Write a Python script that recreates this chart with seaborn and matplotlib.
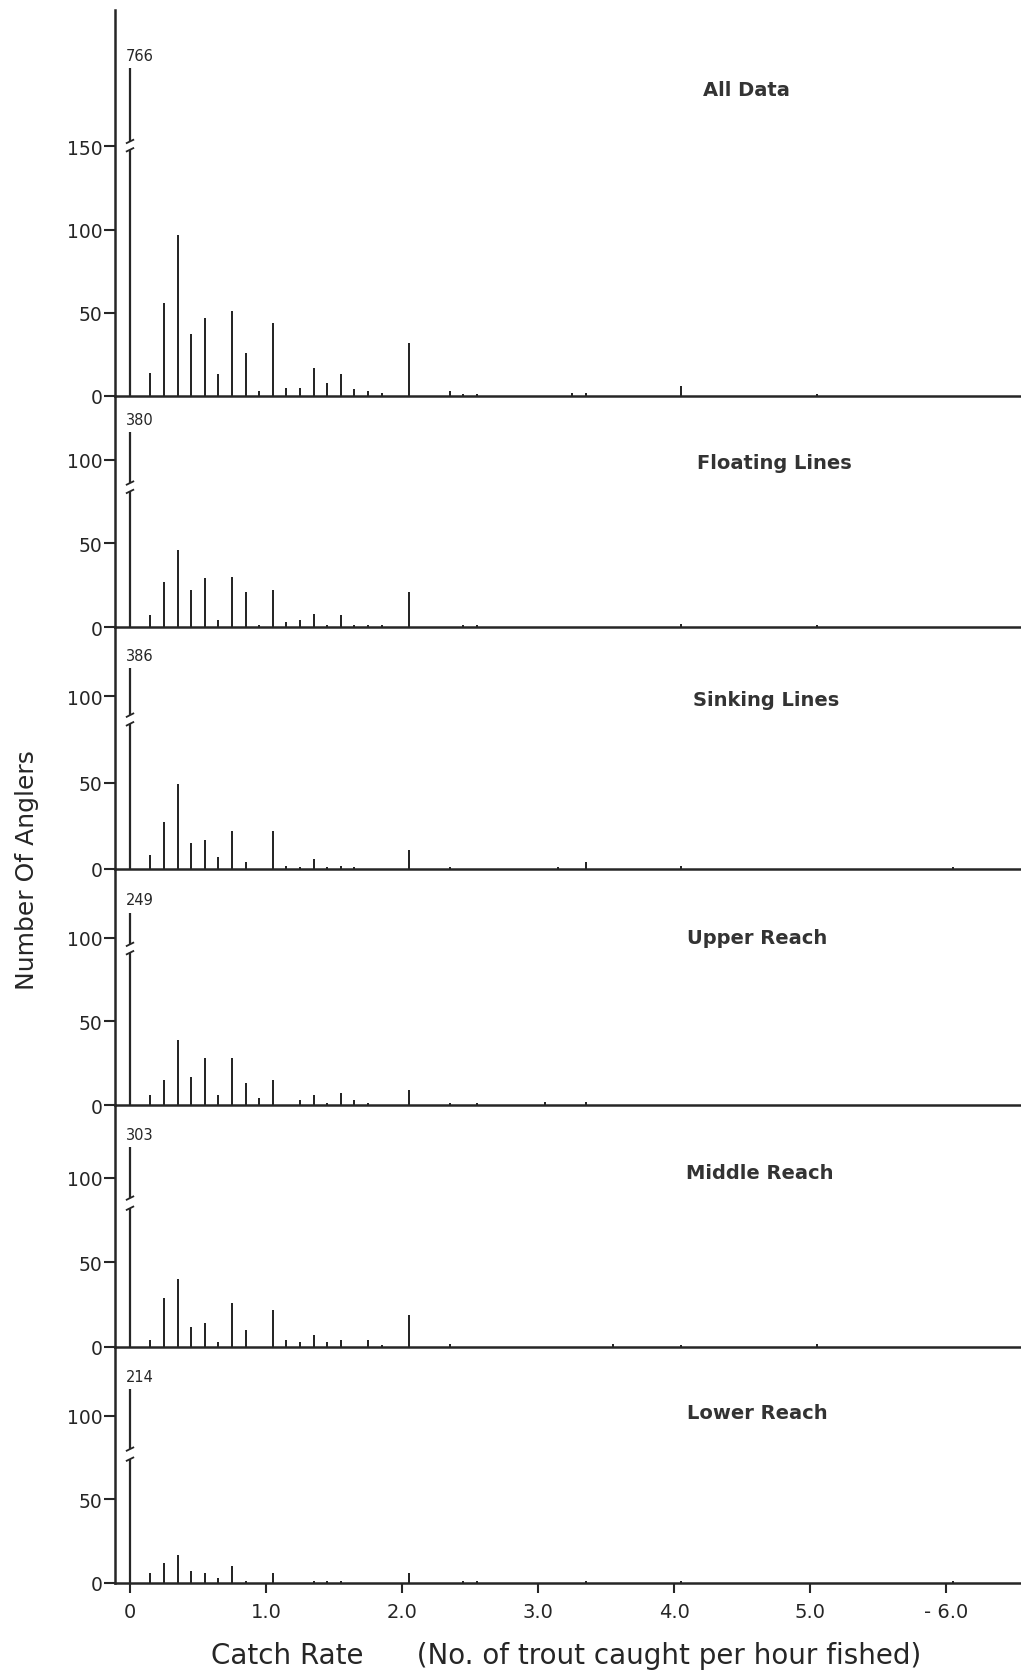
import numpy as np
import pandas as pd
import matplotlib
matplotlib.use("Agg")
import matplotlib.pyplot as plt
import seaborn as sns

# ---------------- data ----------------
panel_titles = ["All Data", "Floating Lines", "Sinking Lines",
                "Upper Reach", "Middle Reach", "Lower Reach"]

# anglers with zero catch (bar at catch rate 0, drawn broken)
zero_counts = [766, 380, 386, 249, 303, 214]

all_rate = [0.15, 0.25, 0.35, 0.45, 0.55, 0.65, 0.75, 0.85, 0.95, 1.05, 1.15, 1.25,
            1.35, 1.45, 1.55, 1.65, 1.75, 1.85, 2.05, 2.35, 2.45, 2.55, 3.25, 3.35,
            4.05, 5.05]
all_n = [14, 56, 97, 37, 47, 13, 51, 26, 3, 44, 5, 5,
         17, 8, 13, 4, 3, 2, 32, 3, 1, 1, 2, 2,
         6, 1]

float_rate = [0.15, 0.25, 0.35, 0.45, 0.55, 0.65, 0.75, 0.85, 0.95, 1.05, 1.15, 1.25,
              1.35, 1.45, 1.55, 1.65, 1.75, 1.85, 2.05, 2.45, 2.55, 4.05, 5.05]
float_n = [7, 27, 46, 22, 29, 4, 30, 21, 1, 22, 3, 4,
           8, 1, 7, 1, 1, 1, 21, 1, 1, 2, 1]

sink_rate = [0.15, 0.25, 0.35, 0.45, 0.55, 0.65, 0.75, 0.85, 1.05, 1.15, 1.25, 1.35,
             1.45, 1.55, 1.65, 2.05, 2.35, 3.15, 3.35, 4.05, 6.05]
sink_n = [8, 27, 49, 15, 17, 7, 22, 4, 22, 2, 1, 6,
          1, 2, 1, 11, 1, 1, 4, 2, 1]

upper_rate = [0.15, 0.25, 0.35, 0.45, 0.55, 0.65, 0.75, 0.85, 0.95, 1.05, 1.25, 1.35,
              1.45, 1.55, 1.65, 1.75, 2.05, 2.35, 2.55, 3.05, 3.35]
upper_n = [6, 15, 39, 17, 28, 6, 28, 13, 4, 15, 3, 6,
           1, 7, 3, 1, 9, 1, 1, 2, 2]

middle_rate = [0.15, 0.25, 0.35, 0.45, 0.55, 0.65, 0.75, 0.85, 1.05, 1.15, 1.25, 1.35,
               1.45, 1.55, 1.75, 1.85, 2.05, 2.35, 3.55, 4.05, 5.05]
middle_n = [4, 29, 40, 12, 14, 3, 26, 10, 22, 4, 3, 7,
            3, 4, 4, 1, 19, 2, 2, 1, 2]

lower_rate = [0.15, 0.25, 0.35, 0.45, 0.55, 0.65, 0.75, 0.85, 1.05, 1.35, 1.45, 1.55,
              2.05, 2.45, 2.55, 3.35, 4.05, 6.05]
lower_n = [6, 12, 17, 7, 6, 3, 10, 1, 6, 1, 1, 1,
           6, 1, 1, 1, 1, 1]

rates = [all_rate, float_rate, sink_rate, upper_rate, middle_rate, lower_rate]
counts = [all_n, float_n, sink_n, upper_n, middle_n, lower_n]

x_ticks = [0, 1, 2, 3, 4, 5, 6]
x_tick_labels = ["0", "1.0", "2.0", "3.0", "4.0", "5.0", "- 6.0"]

# ---------------- layout / style ----------------
height_px = [386, 231, 242, 236, 242, 236]
ylim_top = [232, 138, 140, 141, 143, 141]
zero_bar_top = [197, 116.5, 116, 115, 118, 116]
break_lo = [148, 81, 84, 91, 82, 74]
break_hi = [153, 86, 89, 96, 88, 80]
yticks_list = [[0, 50, 100, 150], [0, 50, 100], [0, 50, 100],
               [0, 50, 100], [0, 50, 100], [0, 50, 100]]
title_x = [4.53, 4.74, 4.68, 4.61, 4.63, 4.61]
title_y = [184, 98, 98, 100, 103, 102]

INK = "#262626"
W, H = 1021, 1674

sns.set_theme(style="ticks")
plt.rcParams["font.family"] = ["DejaVu Sans"]
plt.rcParams["axes.linewidth"] = 1.8

fig = plt.figure(figsize=(W / 100, H / 100), dpi=100)
fig.patch.set_facecolor("white")
gs = fig.add_gridspec(6, 1, height_ratios=height_px, hspace=0,
                      left=115 / W, right=1.0, top=1 - 11 / H, bottom=1 - 1584 / H)

x0_px = 130
px_per_unit = 136
xlim = ((115 - x0_px) / px_per_unit, (W - x0_px) / px_per_unit)

axes = []
for i in range(6):
    ax = fig.add_subplot(gs[i])
    axes.append(ax)
    df = pd.DataFrame({"rate": rates[i], "anglers": counts[i]})
    sns.barplot(data=df, x="rate", y="anglers", native_scale=True, width=0.16,
                color=INK, saturation=1, errorbar=None, linewidth=0, ax=ax)

    # broken zero-catch bar
    ax.vlines(0, 0, break_lo[i], color=INK, lw=1.6)
    ax.vlines(0, break_hi[i], zero_bar_top[i], color=INK, lw=1.6)
    for yb in (break_lo[i], break_hi[i]):
        ax.plot([-0.03, 0.03], [yb - 1.2, yb + 1.2], color=INK, lw=1.3,
                solid_capstyle="butt")
    ax.text(0.07, zero_bar_top[i] + 3, str(zero_counts[i]), ha="center",
            va="bottom", fontsize=10.5, color=INK)

    ax.text(title_x[i], title_y[i], panel_titles[i], ha="center", va="center",
            fontsize=14, fontweight="bold", color="#333333")

    ax.set_xlim(*xlim)
    ax.set_ylim(0, ylim_top[i])
    ax.set_yticks(yticks_list[i])
    ax.set_yticklabels([str(t) for t in yticks_list[i]])
    ax.set_xlabel("")
    ax.set_ylabel("")
    sns.despine(ax=ax, top=True, right=True)
    for s in ("left", "bottom"):
        ax.spines[s].set_color(INK)
        ax.spines[s].set_linewidth(1.8)
    ax.tick_params(axis="y", direction="out", length=8, width=1.5, pad=1,
                   labelsize=13.5, colors=INK)
    if i < 5:
        ax.set_xticks(x_ticks)
        ax.tick_params(axis="x", bottom=False, labelbottom=False)
    else:
        ax.set_xticks(x_ticks)
        ax.set_xticklabels(x_tick_labels)
        ax.tick_params(axis="x", direction="out", length=7, width=1.5, pad=7,
                       labelsize=14, colors=INK)
    ax.set_facecolor("white")
    ax.patch.set_alpha(0)

fig.text(566 / W, 1 - 1656 / H,
         "Catch Rate      (No. of trout caught per hour fished)",
         ha="center", va="center", fontsize=20, color=INK)
fig.text(27 / W, 1 - 870 / H, "Number Of Anglers", rotation=90,
         ha="center", va="center", fontsize=18, color=INK)

fig.savefig("out.png", dpi=100, facecolor="white")
